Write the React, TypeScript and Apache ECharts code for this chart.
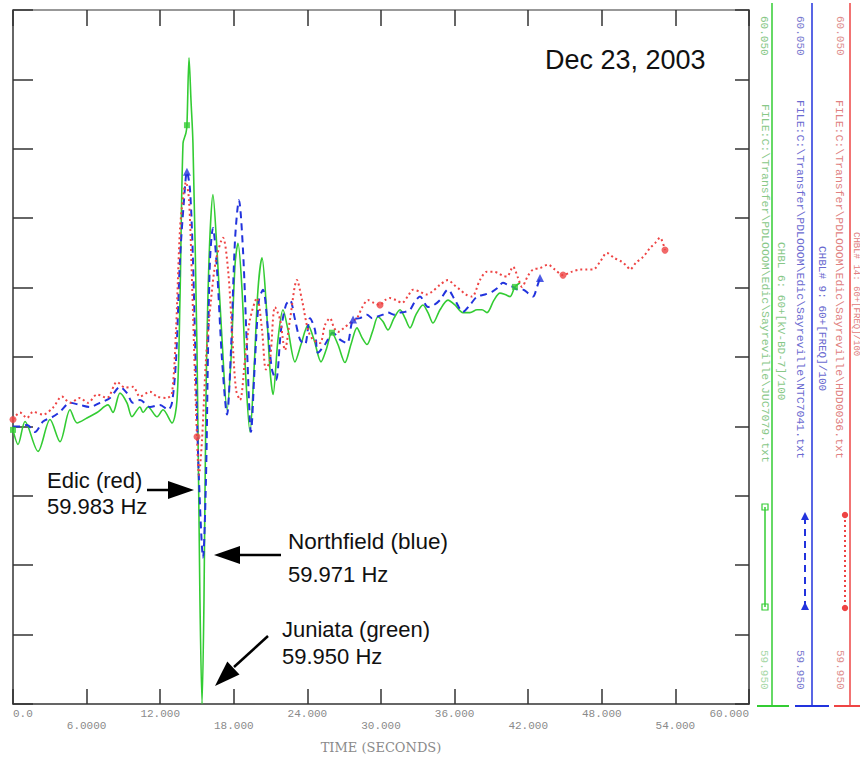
import React, { useEffect, useRef } from "react";
import * as echarts from "echarts";

// ---- axis ticks ----
const timeMin = 0;
const timeMax = 60;
const timeStep = 6;
const xTickLabels = ["0.0", "6.0000", "12.000", "18.000", "24.000", "30.000", "36.000", "42.000", "48.000", "54.000", "60.000"];
const hzMin = 59.95;
const hzMax = 60.05;
const hzStep = 0.01;

// ---- series: [time (s), frequency (Hz)] ----
const juniata: number[][] = [
  [0, 59.9895], [0.41, 59.9874], [0.98, 59.9907], [2.04, 59.9864], [3.02, 59.991], [3.83, 59.9878], [4.65, 59.9924], [5.22, 59.9905], [6.03, 59.9912], [6.85, 59.992],
  [7.74, 59.9931], [8.15, 59.992], [8.72, 59.9948], [9.29, 59.9934], [9.7, 59.9914], [10.35, 59.9928], [10.6, 59.992], [11.01, 59.9928], [11.74, 59.9914], [12.23, 59.9924],
  [12.96, 59.9905], [13.37, 59.9938], [13.61, 60.0082], [13.86, 60.0308], [14.1, 60.0323], [14.18, 60.0334], [14.35, 60.0431], [14.51, 60.037], [14.67, 60.0308], [15.0, 60.001],
  [15.24, 59.965], [15.41, 59.95], [15.57, 59.965], [15.73, 59.9938], [15.98, 60.014], [16.3, 60.0234], [16.63, 60.0154], [17.04, 60.0025], [17.45, 59.9924], [17.77, 59.9996],
  [18.1, 60.0133], [18.34, 60.0164], [18.67, 60.0097], [18.99, 59.9967], [19.32, 59.9892], [19.65, 59.9982], [19.97, 60.0097], [20.3, 60.0143], [20.62, 60.0082], [20.95, 59.9982],
  [21.2, 59.9946], [21.6, 60.0025], [22.01, 60.0068], [22.42, 60.0039], [22.99, 59.9993], [23.48, 60.0018], [24.05, 60.0046], [24.54, 60.0025], [25.11, 59.9993], [25.52, 60.001],
  [26.0, 60.0035], [26.49, 60.0018], [27.06, 59.9992], [27.55, 60.0018], [28.04, 60.0042], [28.45, 60.0028], [28.86, 60.0018], [29.35, 60.0039], [29.75, 60.0058], [30.16, 60.0051],
  [30.57, 60.0039], [31.06, 60.0056], [31.55, 60.0068], [31.96, 60.0056], [32.36, 60.0042], [32.85, 60.0061], [33.42, 60.0075], [33.83, 60.0064], [34.24, 60.0049], [34.81, 60.0068],
  [35.46, 60.0082], [36.03, 60.0075], [36.68, 60.0064], [37.25, 60.0064], [37.83, 60.0068], [38.23, 60.0068], [38.64, 60.0064], [39.21, 60.0082], [39.7, 60.0092], [40.11, 60.009],
  [40.52, 60.0087], [40.92, 60.0101], [41.33, 60.0107],
];
const juniataMarkT = [0, 14.18, 26.0, 40.92];

const northfield: number[][] = [
  [0, 59.99], [0.57, 59.99], [1.14, 59.9902], [1.79, 59.9892], [2.45, 59.9907], [3.26, 59.9914], [3.83, 59.9921], [4.65, 59.9934], [5.46, 59.9931], [6.28, 59.9928],
  [7.09, 59.9934], [7.91, 59.9941], [8.72, 59.9957], [9.29, 59.9948], [9.78, 59.9934], [10.35, 59.9938], [11.17, 59.9928], [11.98, 59.9931], [12.64, 59.9924], [12.96, 59.9934],
  [13.29, 59.9996], [13.61, 60.014], [13.94, 60.0226], [14.18, 60.0267], [14.43, 60.0241], [14.67, 60.014], [14.92, 59.9967], [15.16, 59.9823], [15.49, 59.9711], [15.73, 59.9823],
  [15.9, 60.001], [16.06, 60.014], [16.3, 60.0186], [16.63, 60.0126], [17.04, 59.9996], [17.45, 59.9917], [17.77, 60.001], [18.1, 60.0169], [18.42, 60.0226], [18.75, 60.0154],
  [19.08, 60.001], [19.4, 59.9892], [19.73, 59.9996], [20.05, 60.0082], [20.38, 60.0097], [20.79, 60.0039], [21.11, 59.9982], [21.44, 59.9967], [21.85, 60.0039], [22.25, 60.0075],
  [22.58, 60.0082], [22.99, 60.0054], [23.4, 60.0025], [23.8, 60.0018], [24.21, 60.0056], [24.62, 60.0039], [24.86, 60.0006], [25.43, 60.0018], [26.09, 60.0035], [26.66, 60.0025],
  [27.23, 60.002], [27.72, 60.0054], [28.29, 60.0056], [28.86, 60.0061], [29.27, 60.0056], [29.67, 60.0058], [30.16, 60.0061], [30.57, 60.0064], [31.06, 60.0061], [31.55, 60.0064],
  [31.96, 60.0065], [32.36, 60.0068], [32.77, 60.008], [33.18, 60.0087], [33.83, 60.0072], [34.32, 60.0075], [34.81, 60.0082], [35.46, 60.0097], [36.03, 60.0082], [36.68, 60.0065],
  [37.25, 60.0075], [37.83, 60.0087], [38.48, 60.009], [39.05, 60.0094], [39.54, 60.01], [39.94, 60.0107], [40.35, 60.0104], [40.76, 60.0101], [41.17, 60.0097], [41.58, 60.0097],
  [41.98, 60.0092], [42.39, 60.0087], [42.72, 60.0101], [42.96, 60.0114],
];
const northfieldMarkT = [14.18, 27.72, 42.96];

const edic: number[][] = [
  [0, 59.991], [0.57, 59.992], [1.14, 59.9912], [1.63, 59.9921], [2.45, 59.9917], [3.26, 59.9927], [3.99, 59.9943], [4.65, 59.9934], [5.46, 59.9941], [6.11, 59.9934],
  [6.85, 59.9946], [7.66, 59.9941], [8.48, 59.9964], [9.13, 59.9956], [9.78, 59.9957], [10.35, 59.9943], [11.17, 59.995], [11.74, 59.9943], [12.55, 59.9941], [12.96, 59.9948],
  [13.29, 60.0039], [13.61, 60.0183], [13.94, 60.0241], [14.1, 60.0252], [14.35, 60.0226], [14.59, 60.0111], [14.84, 59.9967], [15.0, 59.9885], [15.16, 59.983], [15.41, 59.9881],
  [15.73, 59.9996], [16.14, 60.0082], [16.55, 60.014], [17.12, 60.0172], [17.53, 60.0126], [17.85, 60.0039], [18.18, 59.9953], [18.51, 59.9938], [18.91, 59.9996], [19.32, 60.0054],
  [19.89, 60.0085], [20.3, 60.0039], [20.62, 59.9982], [20.95, 59.9996], [21.36, 60.0072], [21.77, 60.0054], [22.17, 60.001], [22.58, 60.0054], [23.15, 60.0111], [23.56, 60.0082],
  [24.05, 60.0039], [24.46, 60.0025], [25.03, 60.002], [25.43, 60.0046], [25.84, 60.0056], [26.17, 60.0042], [26.49, 60.0036], [26.98, 60.0042], [27.47, 60.0049], [28.04, 60.0056],
  [28.45, 60.0071], [28.94, 60.0082], [29.43, 60.0078], [29.92, 60.0075], [30.33, 60.0082], [30.73, 60.0085], [31.22, 60.0082], [31.71, 60.0078], [32.2, 60.0088], [32.61, 60.0097],
  [33.18, 60.0094], [33.67, 60.009], [34.16, 60.0094], [34.81, 60.0104], [35.46, 60.0111], [35.95, 60.0104], [36.44, 60.0097], [36.93, 60.009], [37.42, 60.0087], [38.07, 60.0111],
  [38.64, 60.0123], [39.13, 60.0123], [39.54, 60.0121], [39.94, 60.0117], [40.27, 60.0116], [40.76, 60.013], [41.17, 60.0114], [41.49, 60.0101], [41.98, 60.0117], [42.39, 60.0126],
  [42.96, 60.0128], [43.61, 60.0133], [44.18, 60.0126], [44.84, 60.0118], [45.57, 60.0123], [46.22, 60.0126], [46.79, 60.0126], [47.28, 60.0126], [47.85, 60.0137], [48.42, 60.015],
  [48.99, 60.0143], [49.65, 60.0137], [50.05, 60.0131], [50.3, 60.0126], [50.79, 60.0136], [51.36, 60.0144], [51.93, 60.0157], [52.34, 60.0164], [52.74, 60.0172], [53.15, 60.0154],
];
const edicMarkT = [0, 15.0, 29.92, 44.84, 53.15];

// ---- texts ----
const dateText = "Dec 23, 2003";
const annotations = [
  { lines: ["Edic (red)", "59.983 Hz"] },
  { lines: ["Northfield (blue)", "59.971 Hz"] },
  { lines: ["Juniata (green)", "59.950 Hz"] },
];
const stripTexts = {
  green: { file: "FILE:C:\\Transfer\\PDLOOOM\\Edic\\Sayreville\\JUC7079.txt", chan: "CHBL 6: 60+[kV-BD-7]/100" },
  blue: { file: "FILE:C:\\Transfer\\PDLOOOM\\Edic\\Sayreville\\NTC7041.txt", chan: "CHBL# 9: 60+[FREQ]/100" },
  red: { file: "FILE:C:\\Transfer\\PDLOOOM\\Edic\\Sayreville\\HDD0036.txt", chan: "CHBL# 14: 60+[FREQ]/100" },
};
const stripTop = "60.050";
const stripBottom = "59.950";

const GREEN = "#33cc33";
const BLUE = "#2233dd";
const RED = "#ee4444";

function pick(points: number[][], ts: number[]) {
  return ts.map((t) => points.find((p) => p[0] === t) as number[]);
}

function vText(x: number, y: number, text: string, fill: string, size = 11) {
  return {
    type: "text",
    x,
    y,
    rotation: -Math.PI / 2,
    style: { text, fill, fontSize: size, fontFamily: "Liberation Mono", align: "left", verticalAlign: "middle" },
  };
}

function vLine(x: number, y1: number, y2: number, stroke: string, width = 1.5, dash?: number[]) {
  return { type: "line", shape: { x1: x, y1, x2: x, y2 }, style: { stroke, lineWidth: width, lineDash: dash } };
}
function hLine(x1: number, x2: number, y: number, stroke: string, width = 2) {
  return { type: "line", shape: { x1, y1: y, x2, y2: y }, style: { stroke, lineWidth: width } };
}

function label(x: number, y: number, text: string, size = 22) {
  return {
    type: "text",
    x,
    y,
    style: { text, fill: "#111", fontSize: size, fontFamily: "Liberation Sans", align: "left", verticalAlign: "middle" },
  };
}

function buildOption() {
  const axisDark = { color: "#333", width: 1.5 };
  const graphic: any[] = [
    label(545, 60, dateText, 27),
    label(47, 480, annotations[0].lines[0]),
    label(47, 506, annotations[0].lines[1]),
    label(288, 541, annotations[1].lines[0], 22.5),
    label(288, 574, annotations[1].lines[1]),
    label(282, 629, annotations[2].lines[0]),
    label(282, 656, annotations[2].lines[1]),
    // arrows
    { type: "line", shape: { x1: 147, y1: 490, x2: 172, y2: 490 }, style: { stroke: "#000", lineWidth: 2.5 } },
    { type: "polygon", shape: { points: [[168, 481], [194, 490], [168, 499]] }, style: { fill: "#000" } },
    { type: "line", shape: { x1: 238, y1: 555, x2: 281, y2: 555 }, style: { stroke: "#000", lineWidth: 2.5 } },
    { type: "polygon", shape: { points: [[240, 546], [214, 555], [240, 564]] }, style: { fill: "#000" } },
    { type: "line", shape: { x1: 268, y1: 636, x2: 234, y2: 667 }, style: { stroke: "#000", lineWidth: 2.5 } },
    { type: "polygon", shape: { points: [[239.5, 674.6], [215, 686], [227.3, 661.4]] }, style: { fill: "#000" } },
    // right strips: green
    vLine(772, 3, 706, GREEN, 1.5),
    hLine(757, 789, 706, GREEN),
    vText(764, 16, stripTop, "#88c888"),
    vText(765, 104, stripTexts.green.file, "#88c888", 11.5),
    vText(781, 242, stripTexts.green.chan, "#88c888", 11),
    vLine(765, 507, 607, GREEN, 1.5),
    { type: "rect", shape: { x: 762, y: 504, width: 6, height: 6 }, style: { fill: "none", stroke: GREEN, lineWidth: 1.2 } },
    { type: "rect", shape: { x: 762, y: 604, width: 6, height: 6 }, style: { fill: "none", stroke: GREEN, lineWidth: 1.2 } },
    vText(764, 650, stripBottom, "#a8d8a8"),
    // blue
    vLine(812, 3, 706, BLUE, 1.5),
    hLine(795, 829, 706, BLUE),
    vText(800, 16, stripTop, "#7a7ad0"),
    vText(800, 100, stripTexts.blue.file, "#6a6ad0", 11.5),
    vText(822, 246, stripTexts.blue.chan, "#6a6ad0", 11),
    vLine(805, 517, 607, BLUE, 2, [7, 5]),
    { type: "polygon", shape: { points: [[801, 520], [805, 512], [809, 520]] }, style: { fill: BLUE } },
    { type: "polygon", shape: { points: [[801, 610], [805, 602], [809, 610]] }, style: { fill: BLUE } },
    vText(800, 650, stripBottom, "#7a7ad0"),
    // red
    vLine(850, 3, 706, RED, 1.5),
    hLine(834, 860, 706, RED),
    vText(840, 16, stripTop, "#e09090"),
    vText(839, 100, stripTexts.red.file, "#e08080", 11.5),
    vText(855.5, 232, stripTexts.red.chan, "#e08080", 9),
    vLine(845, 515, 607, RED, 2, [2, 3]),
    { type: "circle", shape: { cx: 845, cy: 515, r: 3.2 }, style: { fill: RED } },
    { type: "circle", shape: { cx: 845, cy: 608, r: 3.2 }, style: { fill: RED } },
    vText(840, 650, stripBottom, "#e09090"),
  ];

  return {
    animation: false,
    backgroundColor: "#fff",
    grid: { left: 13, right: 111, top: 10, bottom: 55 },
    xAxis: [
      {
        type: "value",
        min: timeMin,
        max: timeMax,
        interval: timeStep,
        position: "bottom",
        axisLine: { show: true, onZero: false, lineStyle: axisDark },
        axisTick: { show: true, inside: true, length: 15, lineStyle: axisDark },
        splitLine: { show: false },
        axisLabel: {
          show: true,
          margin: 4,
          color: "#8a8a8a",
          fontFamily: "Liberation Mono",
          fontSize: 11,
          lineHeight: 12,
          alignMinLabel: "left",
          alignMaxLabel: "right",
          formatter: (v: number) => {
            const i = Math.round(v / timeStep);
            const s = xTickLabels[i];
            return i % 2 ? "\n" + s : s;
          },
        },
        name: "TIME (SECONDS)",
        nameLocation: "middle",
        nameGap: 37,
        nameTextStyle: { fontFamily: "DejaVu Serif", fontSize: 13, color: "#8a8a8a" },
      },
      {
        type: "value",
        min: timeMin,
        max: timeMax,
        interval: timeStep,
        position: "top",
        axisLine: { show: true, onZero: false, lineStyle: { color: "#777", width: 1.5 } },
        axisTick: { show: true, inside: true, length: 16, lineStyle: axisDark },
        axisLabel: { show: false },
        splitLine: { show: false },
      },
    ],
    yAxis: [
      {
        type: "value",
        min: hzMin,
        max: hzMax,
        interval: hzStep,
        position: "left",
        axisLine: { show: true, onZero: false, lineStyle: axisDark },
        axisTick: { show: true, inside: true, length: 20, lineStyle: axisDark },
        axisLabel: { show: false },
        splitLine: { show: false },
      },
      {
        type: "value",
        min: hzMin,
        max: hzMax,
        interval: hzStep,
        position: "right",
        axisLine: { show: true, onZero: false, lineStyle: axisDark },
        axisTick: { show: true, inside: true, length: 14, lineStyle: axisDark },
        axisLabel: { show: false },
        splitLine: { show: false },
      },
    ],
    series: [
      {
        type: "line",
        name: "Juniata",
        data: juniata,
        showSymbol: false,
        symbol: "none",
        smooth: 0.3,
        lineStyle: { color: GREEN, width: 1.6, type: "solid" },
        z: 2,
      },
      {
        type: "line",
        name: "Northfield",
        data: northfield,
        showSymbol: false,
        symbol: "none",
        smooth: 0.3,
        lineStyle: { color: BLUE, width: 2, type: [7, 5] },
        z: 3,
      },
      {
        type: "line",
        name: "Edic",
        data: edic,
        showSymbol: false,
        symbol: "none",
        smooth: 0.3,
        lineStyle: { color: RED, width: 2, type: [2, 3] },
        z: 4,
      },
      { type: "scatter", data: pick(juniata, juniataMarkT), symbol: "rect", symbolSize: 6, itemStyle: { color: GREEN }, z: 5 },
      { type: "scatter", data: pick(northfield, northfieldMarkT), symbol: "triangle", symbolSize: 8, itemStyle: { color: BLUE }, z: 5 },
      { type: "scatter", data: pick(edic, edicMarkT), symbol: "circle", symbolSize: 7, itemStyle: { color: RED }, z: 5 },
    ],
    graphic,
  };
}

export default function App() {
  const ref = useRef<HTMLDivElement>(null);
  useEffect(() => {
    if (!ref.current) return;
    const chart = echarts.init(ref.current, null, { renderer: "svg" });
    chart.setOption(buildOption() as any);
    return () => chart.dispose();
  }, []);
  return (
    <div
      ref={ref}
      style={{ position: "fixed", left: 0, top: 0, width: 860, height: 759, background: "#fff" }}
    />
  );
}
